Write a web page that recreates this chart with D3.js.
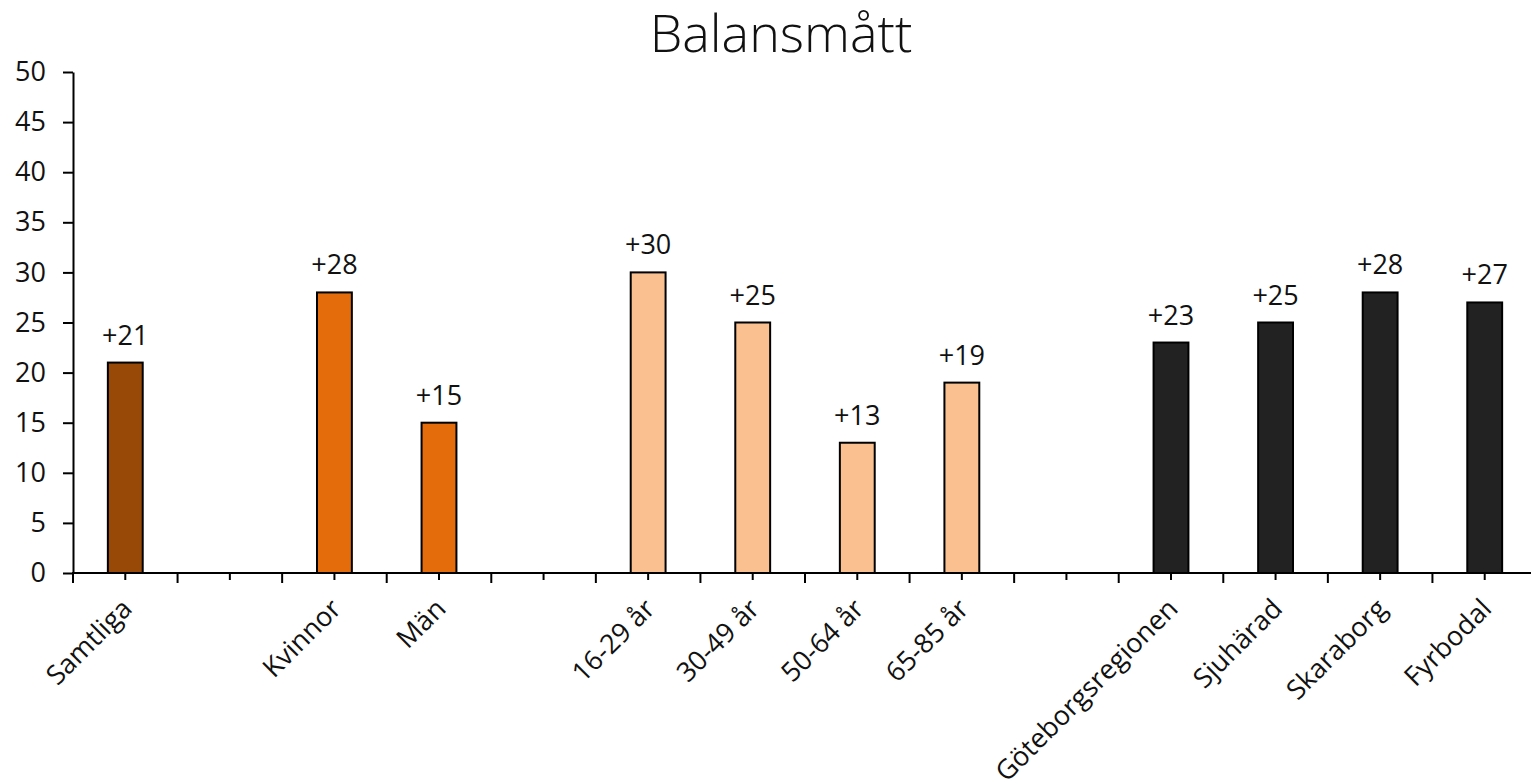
<!DOCTYPE html>
<html>
<head>
<meta charset="utf-8">
<script src="https://cdn.jsdelivr.net/npm/d3@7"></script>
<style>
  body { margin: 0; background: #fff; }
  svg text { font-family: "Open Sans", "Noto Sans", sans-serif; fill: #111; }
</style>
</head>
<body>
<svg width="1531" height="783"></svg>
<script>
// categories, blanks are empty slots between groups
var categories = ["Samtliga", "", "Kvinnor", "Män", "", "16-29 år", "30-49 år", "50-64 år", "65-85 år", "", "Göteborgsregionen", "Sjuhärad", "Skaraborg", "Fyrbodal"];
var values = [21, null, 28, 15, null, 30, 25, 13, 19, null, 23, 25, 28, 27];
var groups = ["all", "", "sex", "sex", "", "age", "age", "age", "age", "", "region", "region", "region", "region"];
var yTicks = [0, 5, 10, 15, 20, 25, 30, 35, 40, 45, 50];
var groupColors = { all: "#984807", sex: "#e46c0a", age: "#fac090", region: "#222222" };

var svg = d3.select("svg"),
    mLeft = 73, mRight = 1537, mTop = 72, mBottom = 573;

var x = d3.scaleBand().domain(d3.range(categories.length)).range([mLeft, mRight]);
var y = d3.scaleLinear().domain([0, 50]).range([mBottom, mTop]);
var bw = x.bandwidth() / 3;

// title
svg.append("text")
    .attr("x", 781).attr("y", 52)
    .attr("text-anchor", "middle")
    .style("font-size", "52px")
    .style("font-weight", 300)
    .text("Balansmått");

// y axis
var yAxis = svg.append("g")
    .attr("transform", "translate(" + mLeft + ",0)")
    .call(d3.axisLeft(y).tickValues(yTicks).tickSize(10).tickPadding(17).tickSizeOuter(0));
yAxis.select(".domain").attr("stroke", "#000").attr("stroke-width", 2);
yAxis.selectAll(".tick line").attr("stroke", "#000").attr("stroke-width", 2);
yAxis.selectAll(".tick text").style("font-size", "27px").style("font-family", "Open Sans").attr("fill", "#111");

// bars
var idx = d3.range(categories.length).filter(function (i) { return values[i] != null; });

svg.selectAll(".bar")
  .data(idx)
  .enter().append("rect")
    .attr("class", "bar")
    .attr("x", function (i) { return x(i) + x.bandwidth() / 2 - bw / 2; })
    .attr("y", function (i) { return y(values[i]); })
    .attr("width", bw)
    .attr("height", function (i) { return y(0) - y(values[i]); })
    .attr("fill", function (i) { return groupColors[groups[i]]; })
    .attr("stroke", "#000")
    .attr("stroke-width", 2);

// value labels
svg.selectAll(".val")
  .data(idx)
  .enter().append("text")
    .attr("class", "val")
    .attr("x", function (i) { return x(i) + x.bandwidth() / 2; })
    .attr("y", function (i) { return y(values[i]) - 18; })
    .attr("text-anchor", "middle")
    .style("font-size", "27px")
    .text(function (i) { return "+" + values[i]; });

// x axis line and ticks
svg.append("line")
    .attr("x1", mLeft - 1).attr("x2", mRight)
    .attr("y1", mBottom).attr("y2", mBottom)
    .attr("stroke", "#000").attr("stroke-width", 2);

var bounds = d3.range(categories.length + 1).map(function (i) { return mLeft + i * x.bandwidth(); });
svg.selectAll(".btick")
  .data(bounds)
  .enter().append("line")
    .attr("x1", function (d) { return d; }).attr("x2", function (d) { return d; })
    .attr("y1", mBottom).attr("y2", mBottom + 10)
    .attr("stroke", "#000").attr("stroke-width", 2);

svg.selectAll(".ctick")
  .data(d3.range(categories.length))
  .enter().append("line")
    .attr("x1", function (i) { return x(i) + x.bandwidth() / 2; })
    .attr("x2", function (i) { return x(i) + x.bandwidth() / 2; })
    .attr("y1", mBottom).attr("y2", mBottom + 7)
    .attr("stroke", "#000").attr("stroke-width", 2);

// category labels
svg.selectAll(".cat")
  .data(idx)
  .enter().append("text")
    .attr("class", "cat")
    .attr("transform", function (i) {
        return "translate(" + (x(i) + x.bandwidth() / 2 - 5) + "," + (mBottom + 24) + ")rotate(-45)";
    })
    .attr("text-anchor", "end")
    .attr("dy", "0.7em")
    .style("font-size", "27px")
    .text(function (i) { return categories[i]; });
</script>
</body>
</html>
